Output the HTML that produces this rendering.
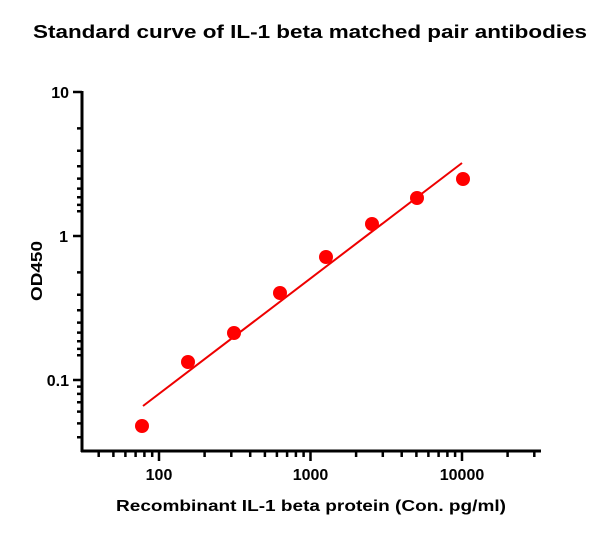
<!DOCTYPE html>
<html><head><meta charset="utf-8"><style>body{margin:0;background:#fff}svg{display:block}</style></head><body>
<svg width="606" height="534" xmlns="http://www.w3.org/2000/svg" font-family="Liberation Sans, sans-serif" font-weight="bold">
<rect width="606" height="534" fill="#fff"/>
<text x="310" y="38" font-size="18" text-anchor="middle" textLength="554" lengthAdjust="spacingAndGlyphs">Standard curve of IL-1 beta matched pair antibodies</text>
<g stroke="#000" stroke-width="3" fill="none">
<path d="M82 91 V452 M81 451 H541"/>
</g>
<g stroke="#000" stroke-width="2.5">
<path d="M73 92H82 M73 236H82 M73 380H82"/>
<path d="M77 128.4H82 M77 150.7H82 M77 166.3H82 M77 178.6H82 M77 188.6H82 M77 197.3H82 M77 204.9H82 M77 211.3H82"/>
<path d="M77 272.4H82 M77 294.7H82 M77 310.3H82 M77 322.6H82 M77 332.6H82 M77 341.3H82 M77 348.9H82 M77 355.3H82"/>
<path d="M77 386.6H82 M77 393.9H82 M77 402.3H82 M77 411.6H82 M77 423.4H82 M77 437.3H82"/>
<path d="M159 451V461 M310.5 451V461 M462 451V461"/>
<path d="M98.7 451V457 M113.4 451V457 M125.4 451V457 M135.6 451V457 M144.4 451V457 M152.2 451V457"/>
<path d="M204.6 451V457 M231.3 451V457 M250.2 451V457 M264.9 451V457 M276.9 451V457 M287.1 451V457 M295.9 451V457 M303.6 451V457"/>
<path d="M356.1 451V457 M382.8 451V457 M401.7 451V457 M416.4 451V457 M428.4 451V457 M438.6 451V457 M447.4 451V457 M455.1 451V457"/>
<path d="M507.6 451V457 M534.3 451V457"/>
</g>
<g font-size="16" text-anchor="end">
<text x="69" y="98">10</text>
<text x="68" y="242">1</text>
<text x="69" y="386">0.1</text>
</g>
<g font-size="16" text-anchor="middle">
<text x="159" y="480">100</text>
<text x="310.5" y="480">1000</text>
<text x="462" y="480">10000</text>
<text x="311" y="511" textLength="390" lengthAdjust="spacingAndGlyphs">Recombinant IL-1 beta protein (Con. pg/ml)</text>
<text transform="translate(42,271) rotate(-90)" textLength="60" lengthAdjust="spacingAndGlyphs">OD450</text>
</g>
<line x1="143" y1="406" x2="462" y2="163" stroke="#e00" stroke-width="2"/>
<g fill="#f00">
<circle cx="142" cy="426" r="7"/>
<circle cx="188" cy="362" r="7"/>
<circle cx="234" cy="333" r="7"/>
<circle cx="280" cy="293" r="7"/>
<circle cx="326" cy="257" r="7"/>
<circle cx="372" cy="224" r="7"/>
<circle cx="417" cy="198" r="7"/>
<circle cx="463" cy="179" r="7"/>
</g>
</svg>
</body></html>
